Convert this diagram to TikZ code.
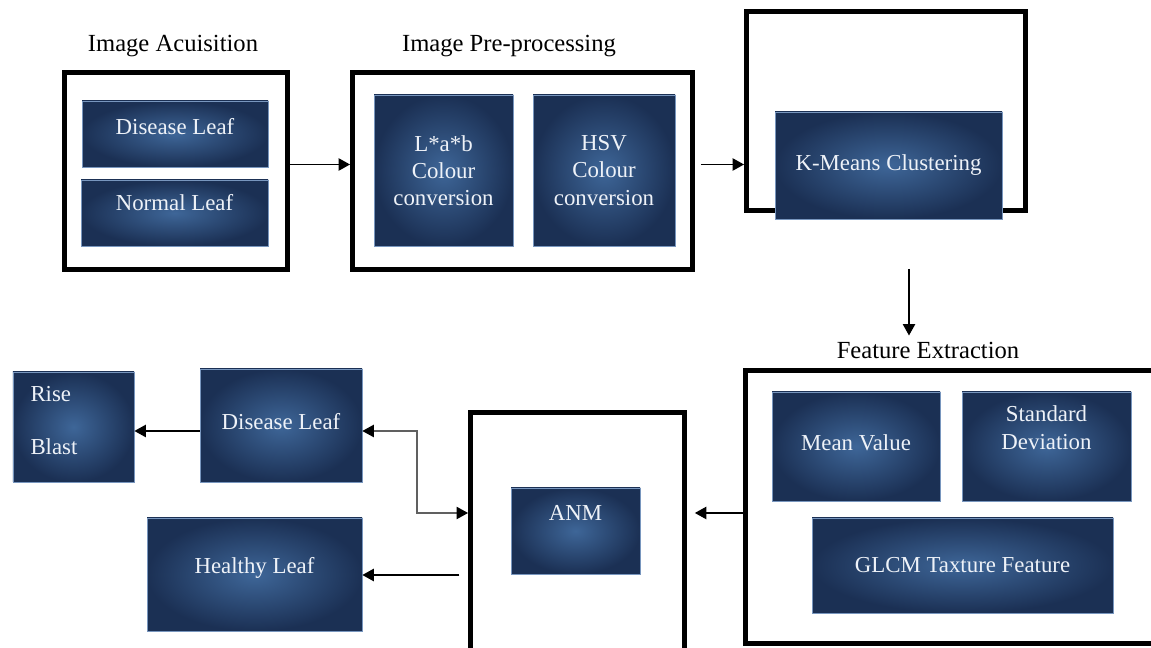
\documentclass[tikz,border=0pt]{standalone}
\usepackage{fontspec}
\setmainfont{Liberation Serif}
\usetikzlibrary{arrows.meta}
\definecolor{boxedge}{RGB}{27,48,84}
\definecolor{boxmid}{RGB}{62,102,152}
\definecolor{boxline}{RGB}{120,150,190}
\definecolor{boxtext}{RGB}{238,242,248}
\begin{document}
\begin{tikzpicture}[
	frame/.style={draw, line width=2.8pt, inner sep=0pt},
	leaf/.style={shading=radial, inner color=boxmid, outer color=boxedge, draw=boxline, line width=0.4pt,
		text=boxtext, align=center, inner sep=2pt, font=\fontsize{13}{15.5}\selectfont},
	title/.style={font=\fontsize{14}{17}\selectfont},
	arr/.style={-{Triangle[length=6.5pt,width=7pt]}, line width=0.8pt},
	link/.style={{Triangle[length=6.5pt,width=7pt,color=black]}-{Triangle[length=6.5pt,width=7pt,color=black]}, line width=0.6pt, draw=gray!75!black}
	]
	\useasboundingbox(0, 0) rectangle (23.02, 12.96);
	\clip(0, 0) rectangle (23.02, 12.96);

	\node[frame, minimum width=4.46cm, minimum height=3.94cm] (acqframe) at(3.52, 9.54){};
	\node[frame, minimum width=6.80cm, minimum height=3.94cm] (preframe) at(10.45, 9.54){};
	\node[frame, minimum width=5.58cm, minimum height=3.98cm] (kmframe) at(17.72, 10.74){};
	\node[frame, minimum width=8.49cm, minimum height=5.46cm] (featframe) at(19.155, 2.82){};
	\node[frame, minimum width=4.28cm, minimum height=5.35cm] (anmframe) at(11.55, 2.035){};

	\node[title] (acqttl) at(3.46, 12.04){Image Acuisition};
	\node[title] (prettl) at(10.18, 12.04){Image Pre-processing};
	\node[title] (featttl) at(18.56, 5.96){Feature Extraction};

	\node[leaf, minimum width=3.72cm, minimum height=1.32cm, text depth=9pt] (dleaf) at(3.50, 10.28){Disease Leaf};
	\node[leaf, minimum width=3.74cm, minimum height=1.32cm, text depth=12.5pt] (nleaf) at(3.49, 8.70){Normal Leaf};
	\node[leaf, minimum width=2.78cm, minimum height=3.02cm] (lab) at(8.87, 9.55){L*a*b\\Colour\\conversion};
	\node[leaf, minimum width=2.84cm, minimum height=3.02cm] (hsv) at(12.08, 9.55){HSV\\Colour\\conversion};
	\node[leaf, minimum width=4.54cm, minimum height=2.14cm] (kmeans) at(17.77, 9.65){K-Means Clustering};

	\node[leaf, minimum width=3.36cm, minimum height=2.18cm, text depth=4pt] (mean) at(17.12, 4.03){Mean Value};
	\node[leaf, minimum width=3.38cm, minimum height=2.18cm, text depth=21.6pt] (stdev) at(20.93, 4.03){Standard\\Deviation};
	\node[leaf, minimum width=6.02cm, minimum height=1.90cm] (glcm) at(19.25, 1.65){GLCM Taxture Feature};

	\node[leaf, minimum width=2.58cm, minimum height=1.72cm, text depth=20.5pt] (anm) at(11.51, 2.34){ANM};
	\node[leaf, minimum width=3.24cm, minimum height=2.26cm, text depth=5pt] (dleaf2) at(5.62, 4.45){Disease Leaf};
	\node[leaf, minimum width=2.42cm, minimum height=2.20cm, align=left, inner xsep=10pt, text width=1.72cm, text depth=37.5pt] (blast) at(1.47, 4.42){Rise\\[14.5pt]Blast};
	\node[leaf, minimum width=4.30cm, minimum height=2.26cm, text depth=10.2pt] (hleaf) at(5.09, 1.47){Healthy Leaf};

	\coordinate (rowin) at(0, 9.67);
	\coordinate (kmout) at(18.18, 7.58);
	\coordinate (anmin) at(0, 2.70);
	\coordinate (elb) at(8.34, 4.34);
	\coordinate (hlin) at(0, 1.46);

	\draw[arr](acqframe.east |- rowin) to (preframe.west |- rowin);
	\draw[arr, shorten <=3.4pt](preframe.east |- rowin) to (kmframe.west |- rowin);
	\draw[arr](kmout) to (kmout |- featttl.north);
	\draw[arr, shorten >=4.5pt](featframe.west |- anmin) to (anmframe.east |- anmin);
	\draw[link](dleaf2.east |- elb) -- (elb) |- (anmframe.west |- anmin);
	\draw[arr](dleaf2.west |- elb) to (blast.east |- elb);
	\draw[arr, shorten <=5pt](anmframe.west |- hlin) to (hleaf.east |- hlin);

\end{tikzpicture}
\end{document}
